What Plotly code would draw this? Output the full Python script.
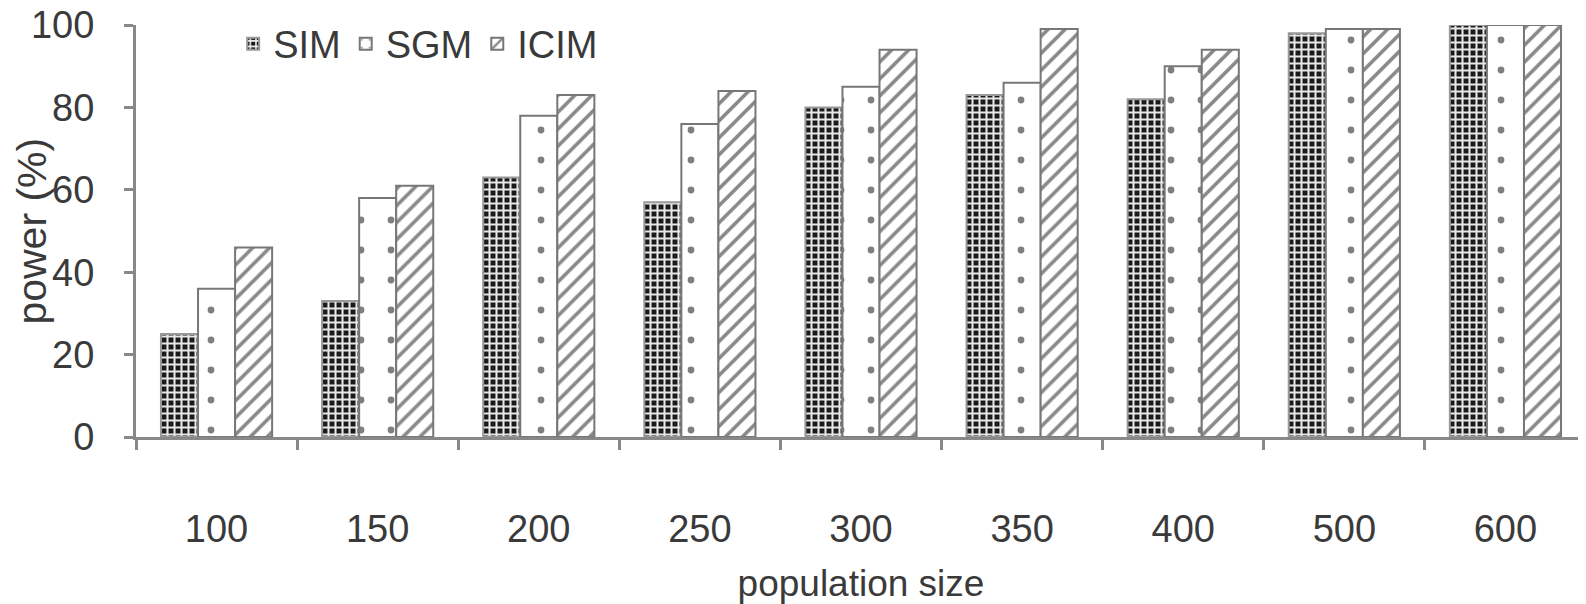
import plotly.graph_objects as go

categories = ["100", "150", "200", "250", "300", "350", "400", "500", "600"]
sim = [25, 33, 63, 57, 80, 83, 82, 98, 100]
sgm = [36, 58, 78, 76, 85, 86, 90, 99, 100]
icim = [46, 61, 83, 84, 94, 99, 94, 99, 100]
y_ticks = [0, 20, 40, 60, 80, 100]

FONT = "Liberation Sans, Arial, sans-serif"
TXT = "#3a3a3a"

fig = go.Figure()
fig.add_trace(go.Bar(
    name="SIM", x=categories, y=sim,
    marker=dict(color="#1a1a1a", line=dict(color="#999", width=2),
                pattern=dict(shape="+", fgcolor="#e8e8e8", bgcolor="#1a1a1a", size=7, solidity=0.5, fillmode="replace")),
))
fig.add_trace(go.Bar(
    name="SGM", x=categories, y=sgm,
    marker=dict(color="white", line=dict(color="#777", width=2),
                pattern=dict(shape=".", fgcolor="black", bgcolor="white", size=30, solidity=0.04, fillmode="overlay")),
))
fig.add_trace(go.Bar(
    name="ICIM", x=categories, y=icim,
    marker=dict(color="white", line=dict(color="#777", width=2),
                pattern=dict(shape="/", fgcolor="#111", bgcolor="white", size=12, solidity=0.3, fillmode="overlay")),
))

fig.update_layout(
    width=1578, height=596,
    margin=dict(l=128, r=0, t=17, b=167, autoexpand=False),
    paper_bgcolor="white", plot_bgcolor="white",
    barmode="group", bargap=0.31, bargroupgap=0,
    font=dict(family=FONT, size=38, color=TXT),
    showlegend=True,
    legend=dict(orientation="h", x=0.067, y=0.954, xanchor="left", yanchor="middle",
                bgcolor="rgba(0,0,0,0)", font=dict(size=38, color=TXT),
                itemwidth=30, tracegroupgap=0),
    xaxis=dict(
        automargin=False,
        showline=True, linecolor="#888", linewidth=3,
        ticks="outside", tickson="boundaries", ticklen=10, tickwidth=3, tickcolor="#888",
        ticklabelstandoff=56, showgrid=False, ticklabeloverflow="allow",
        title=dict(text="population size", font=dict(size=37, color=TXT), standoff=24),
        tickfont=dict(size=38, color=TXT),
    ),
    yaxis=dict(
        automargin=False,
        range=[0, 100], tickvals=y_ticks,
        showline=True, linecolor="#888", linewidth=3,
        ticks="outside", ticklen=9, tickwidth=3, tickcolor="#888",
        ticklabelstandoff=22, showgrid=False, zeroline=False, ticklabeloverflow="allow",
        tickfont=dict(size=38, color=TXT),
    ),
    annotations=[dict(
        text="power (%)", textangle=-90, xref="paper", yref="paper",
        x=-0.072, y=0.5, xanchor="center", yanchor="middle", showarrow=False,
        font=dict(size=41, color=TXT, family=FONT),
    )],
)
fig.update_traces(cliponaxis=False)

fig.write_html("out.html")
